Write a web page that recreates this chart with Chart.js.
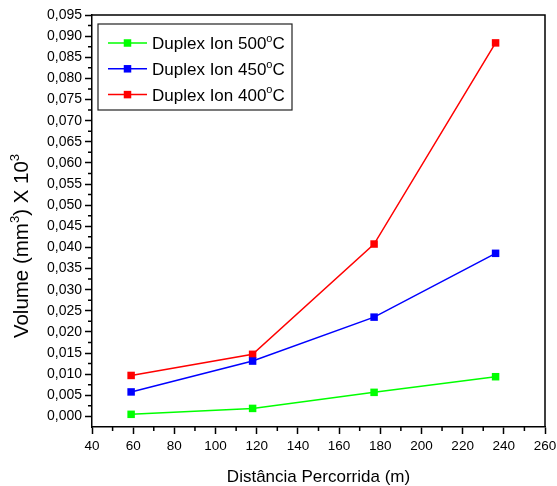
<!DOCTYPE html>
<html>
<head>
<meta charset="utf-8">
<script src="https://cdn.jsdelivr.net/npm/chart.js@4.4.0/dist/chart.umd.min.js"></script>
<style>
    html, body { margin: 0; padding: 0; background: #fff; }
    #graph_area { width: 557px; height: 486px; }
</style>
</head>
<body>
<div id="graph_area"><canvas id="graph_canvas"></canvas></div>
<script>
// wear test results, volume lost per distance
const DISTANCIA = [59, 118, 177, 236];
const ION_500 = [0.0005, 0.0019, 0.0057, 0.0094];
const ION_450 = [0.0058, 0.0131, 0.0235, 0.0386];
const ION_400 = [0.0097, 0.0147, 0.0408, 0.0884];

// "^x" marks a raised character
const SERIES_LABELS = ['Duplex Ion 500^oC', 'Duplex Ion 450^oC', 'Duplex Ion 400^oC'];
const SERIES_COLORS = ['#00ff00', '#0000ff', '#ff0000'];

const X_TICKS = [40, 60, 80, 100, 120, 140, 160, 180, 200, 220, 240, 260];
const Y_TICKS = [0, 0.005, 0.010, 0.015, 0.020, 0.025, 0.030, 0.035, 0.040, 0.045,
    0.050, 0.055, 0.060, 0.065, 0.070, 0.075, 0.080, 0.085, 0.090, 0.095];

const X_TITLE = 'Distância Percorrida (m)';
const Y_TITLE = 'Volume (mm^3) X 10^3';

const FONT = '"Liberation Sans", Arial, sans-serif';

function toPoints(ys) {
    return DISTANCIA.map((x, i) => ({ x: x, y: ys[i] }));
}

// text with small raised characters after '^'
function drawRichText(ctx, text, x, y, size, align) {
    var parts = [];
    text.split('^').forEach((chunk, i) => {
        if (i == 0) {
            parts.push([chunk, false]);
        } else {
            parts.push([chunk[0], true]);
            parts.push([chunk.slice(1), false]);
        }
    });
    var supSize = Math.round(size * 0.65);
    var total = 0;
    parts.forEach(p => {
        ctx.font = (p[1] ? supSize : size) + 'px ' + FONT;
        total += ctx.measureText(p[0]).width;
    });
    var cx = align == 'center' ? x - total / 2 : x;
    ctx.textAlign = 'left';
    ctx.textBaseline = 'alphabetic';
    parts.forEach(p => {
        ctx.font = (p[1] ? supSize : size) + 'px ' + FONT;
        ctx.fillText(p[0], cx, p[1] ? y - size * 0.42 : y);
        cx += ctx.measureText(p[0]).width;
    });
}

// closing frame, minor ticks, y title and the boxed legend
const extras = {
    id: 'extras',
    afterDraw(chart) {
        const { ctx, chartArea: a, scales } = chart;
        ctx.save();
        ctx.strokeStyle = '#000';
        ctx.lineWidth = 1.5;
        ctx.beginPath();
        ctx.moveTo(a.left, a.top);
        ctx.lineTo(a.right, a.top);
        ctx.lineTo(a.right, a.bottom);
        for (let i = 0; i < X_TICKS.length - 1; i++) {
            const px = scales.x.getPixelForValue((X_TICKS[i] + X_TICKS[i + 1]) / 2);
            ctx.moveTo(px, a.bottom);
            ctx.lineTo(px, a.bottom + 4);
        }
        for (let i = 0; i < Y_TICKS.length - 1; i++) {
            const py = scales.y.getPixelForValue((Y_TICKS[i] + Y_TICKS[i + 1]) / 2);
            ctx.moveTo(a.left, py);
            ctx.lineTo(a.left - 4, py);
        }
        ctx.stroke();

        // y axis title
        ctx.fillStyle = '#000';
        ctx.save();
        ctx.translate(20.5, (a.top + a.bottom) / 2 + 25);
        ctx.rotate(-Math.PI / 2);
        drawRichText(ctx, Y_TITLE, 0, 7, 20.5, 'center');
        ctx.restore();

        // legend
        const bx = a.left + 6, by = a.top + 9;
        ctx.lineWidth = 1.2;
        ctx.strokeStyle = '#222';
        ctx.strokeRect(bx, by, 194, 86);
        chart.data.datasets.forEach((ds, i) => {
            const cy = by + 19 + i * 25.8;
            ctx.strokeStyle = ds.borderColor;
            ctx.lineWidth = 1.5;
            ctx.beginPath();
            ctx.moveTo(bx + 10, cy);
            ctx.lineTo(bx + 49, cy);
            ctx.stroke();
            ctx.fillStyle = ds.borderColor;
            ctx.fillRect(bx + 29.5 - 3.75, cy - 3.75, 7.5, 7.5);
            ctx.fillStyle = '#000';
            drawRichText(ctx, ds.label, bx + 54, cy + 6, 17, 'left');
        });
        ctx.restore();
    }
};

document.addEventListener("DOMContentLoaded", function () {
    Chart.defaults.color = '#000';
    Chart.defaults.font.family = FONT;

    const datasets = [ION_500, ION_450, ION_400].map((ys, i) => ({
        label: SERIES_LABELS[i],
        data: toPoints(ys),
        borderColor: SERIES_COLORS[i],
        backgroundColor: SERIES_COLORS[i],
        borderWidth: 1.5,
        pointStyle: 'rect',
        pointRadius: 5.3,
        pointBorderWidth: 0,
        pointBackgroundColor: SERIES_COLORS[i],
        tension: 0
    }));

    new Chart(document.getElementById('graph_canvas'), {
        type: 'line',
        data: { datasets: datasets },
        options: {
            responsive: true,
            maintainAspectRatio: false,
            animation: false,
            layout: { padding: { top: 15, right: 12, left: 0, bottom: 0 } },
            plugins: {
                legend: { display: false },
                tooltip: { enabled: false }
            },
            scales: {
                x: {
                    type: 'linear',
                    min: 40,
                    max: 260,
                    afterBuildTicks: scale => { scale.ticks = X_TICKS.map(v => ({ value: v })); },
                    afterFit: scale => {
                        scale.height = 59;
                        scale.paddingLeft = 0;
                        scale.paddingRight = 0;
                    },
                    border: { display: true, color: '#000', width: 1.5 },
                    grid: { drawOnChartArea: false, tickLength: 7, tickColor: '#000', tickWidth: 1.5 },
                    ticks: { font: { size: 13.5 }, padding: 4, maxRotation: 0, callback: v => String(v) },
                    title: { display: true, text: X_TITLE, font: { size: 17 }, padding: { top: 0, bottom: -2 } }
                },
                y: {
                    type: 'linear',
                    min: -0.0025,
                    max: 0.095,
                    afterBuildTicks: scale => { scale.ticks = Y_TICKS.map(v => ({ value: v })); },
                    afterFit: scale => {
                        scale.width = 92;
                        scale.paddingTop = 0;
                        scale.paddingBottom = 0;
                    },
                    border: { display: true, color: '#000', width: 1.5 },
                    grid: { drawOnChartArea: false, tickLength: 7, tickColor: '#000', tickWidth: 1.5 },
                    ticks: { font: { size: 14 }, padding: 3, callback: v => v.toFixed(3).replace('.', ',') }
                }
            }
        },
        plugins: [extras]
    });
});
</script>
</body>
</html>
